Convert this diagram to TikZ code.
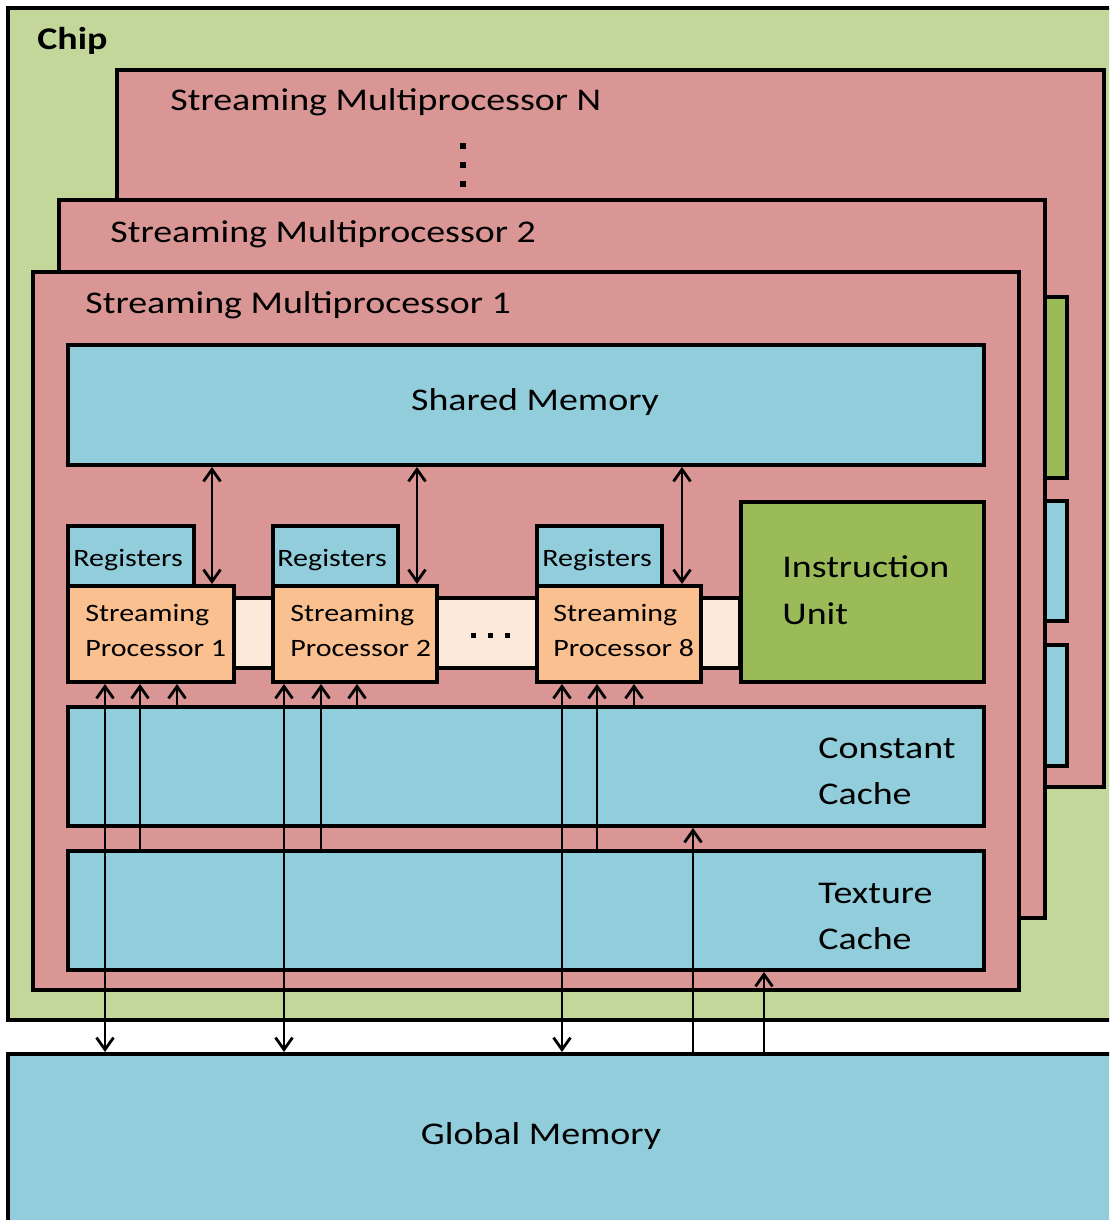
\documentclass[tikz,border=0pt]{standalone}
\usepackage{fontspec}
\setmainfont{Carlito}[FakeStretch=1.2]
\usetikzlibrary{arrows.meta,fit}
\definecolor{chipgreen}{HTML}{C4D79B}
\definecolor{smred}{HTML}{D99694}
\definecolor{memblue}{HTML}{92CDDC}
\definecolor{sporange}{HTML}{FAC090}
\definecolor{buspeach}{HTML}{FDE9D9}
\definecolor{instgreen}{HTML}{9BBB59}
\tikzset{
  block/.style={draw=black, line width=2pt, inner sep=0pt},
  bigtext/.style={font=\fontsize{15.8}{23.5}\selectfont, inner sep=0pt},
  smalltext/.style={font=\fontsize{12.5}{17.5}\selectfont, inner sep=0pt},
  barb/.tip={Straight Barb[length=6pt,width=8.5pt]},
  oneway/.style={line width=1.4pt, -barb},
  twoway/.style={line width=1.4pt, barb-barb},
  dot/.style={fill=black, draw=none}
}
\begin{document}
\begin{tikzpicture}[x=0.5pt, y=-0.5pt]
\useasboundingbox (0,0) rectangle (1109,1220);
\clip (0,0) rectangle (1109,1220);

% chip and the stack of streaming multiprocessors
\node[block, fill=chipgreen, fit={(8,8) (1130,1020)}] (chip) {};
\node[bigtext, font=\fontsize{15.8}{23.5}\selectfont\bfseries, anchor=base west] (chiplbl) at (37,50) {Chip};

\node[block, fill=smred, fit={(117,70) (1104,787)}] (smN) {};
\node[bigtext, anchor=base west] (smNlbl) at (170,111) {Streaming Multiprocessor N};
\fill[dot] (459.5,142.5) rectangle (465.5,148.5);
\fill[dot] (459.5,161.5) rectangle (465.5,167.5);
\fill[dot] (459.5,180.5) rectangle (465.5,186.5);
\node[block, fill=instgreen, fit={(1030,297) (1067,478)}] (smNinst) {};
\node[block, fill=memblue, fit={(1030,501) (1067,621)}] (smNconst) {};
\node[block, fill=memblue, fit={(1030,645) (1067,766)}] (smNtex) {};

\node[block, fill=smred, fit={(59,200) (1045,918)}] (sm2) {};
\node[bigtext, anchor=base west] (sm2lbl) at (110,242) {Streaming Multiprocessor 2};

\node[block, fill=smred, fit={(33,272) (1019,990)}] (sm1) {};
\node[bigtext, anchor=base west] (sm1lbl) at (85,313) {Streaming Multiprocessor 1};

% contents of multiprocessor 1
\node[block, fill=memblue, fit={(68,345) (984,465)}] (shmem) {};
\node[bigtext, anchor=base] (shmemlbl) at (535,410) {Shared Memory};

\node[block, fill=buspeach, fit={(234,598) (740,668)}] (bus) {};
\fill[dot] (471,633) rectangle (476,638);
\fill[dot] (488,633) rectangle (493,638);
\fill[dot] (505,633) rectangle (510,638);

\node[block, fill=memblue, fit={(68,526) (194,586)}] (reg1) {};
\node[block, fill=memblue, fit={(273,526) (398,586)}] (reg2) {};
\node[block, fill=memblue, fit={(537,526) (662,586)}] (reg8) {};
\node[smalltext, anchor=base west] (reg1lbl) at (73,566) {Registers};
\node[smalltext, anchor=base west] (reg2lbl) at (277,566) {Registers};
\node[smalltext, anchor=base west] (reg8lbl) at (542,566) {Registers};

\node[block, fill=sporange, fit={(68,586) (234,682)}] (sp1) {};
\node[block, fill=sporange, fit={(273,586) (437,682)}] (sp2) {};
\node[block, fill=sporange, fit={(537,586) (701,682)}] (sp8) {};
\node[smalltext, align=left, anchor=base west] (sp1lbl) at (85,656) {Streaming\\Processor 1};
\node[smalltext, align=left, anchor=base west] (sp2lbl) at (290,656) {Streaming\\Processor 2};
\node[smalltext, align=left, anchor=base west] (sp8lbl) at (553,656) {Streaming\\Processor 8};

\node[block, fill=instgreen, fit={(741,502) (984,682)}] (instr) {};
\node[bigtext, align=left, anchor=base west] (instrlbl) at (782,624) {Instruction\\Unit};

\node[block, fill=memblue, fit={(68,707) (984,826)}] (const) {};
\node[bigtext, align=left, anchor=base west, font=\fontsize{15.8}{23}\selectfont] (constlbl) at (818,804) {Constant\\Cache};
\node[block, fill=memblue, fit={(68,851) (984,970)}] (tex) {};
\node[bigtext, align=left, anchor=base west, font=\fontsize{15.8}{23}\selectfont] (texlbl) at (818,949) {Texture\\Cache};

% off-chip memory
\node[block, fill=memblue, fit={(8,1054) (1130,1240)}] (gmem) {};
\node[bigtext, anchor=base] (gmemlbl) at (541,1144) {Global Memory};

% shared memory <-> streaming processors
\coordinate (s1) at (212,0);
\coordinate (s2) at (417,0);
\coordinate (s8) at (682,0);
\draw[twoway] (s1 |- shmem.south) -- (s1 |- sp1.north);
\draw[twoway] (s2 |- shmem.south) -- (s2 |- sp2.north);
\draw[twoway] (s8 |- shmem.south) -- (s8 |- sp8.north);

% global memory and caches -> streaming processors
\coordinate (g1) at (105,0);  \coordinate (t1) at (140,0);  \coordinate (c1) at (177,0);
\coordinate (g2) at (284,0);  \coordinate (t2) at (321,0);  \coordinate (c2) at (357,0);
\coordinate (g8) at (562,0);  \coordinate (t8) at (597,0);  \coordinate (c8) at (634,0);
\draw[twoway] (g1 |- gmem.north) -- (g1 |- sp1.south);
\draw[oneway] (t1 |- tex.north) -- (t1 |- sp1.south);
\draw[oneway] (c1 |- const.north) -- (c1 |- sp1.south);
\draw[twoway] (g2 |- gmem.north) -- (g2 |- sp2.south);
\draw[oneway] (t2 |- tex.north) -- (t2 |- sp2.south);
\draw[oneway] (c2 |- const.north) -- (c2 |- sp2.south);
\draw[twoway] (g8 |- gmem.north) -- (g8 |- sp8.south);
\draw[oneway] (t8 |- tex.north) -- (t8 |- sp8.south);
\draw[oneway] (c8 |- const.north) -- (c8 |- sp8.south);

% global memory -> caches
\coordinate (gc) at (693,0);
\coordinate (gt) at (764,0);
\draw[oneway] (gc |- gmem.north) -- (gc |- const.south);
\draw[oneway] (gt |- gmem.north) -- (gt |- tex.south);
\end{tikzpicture}
\end{document}
